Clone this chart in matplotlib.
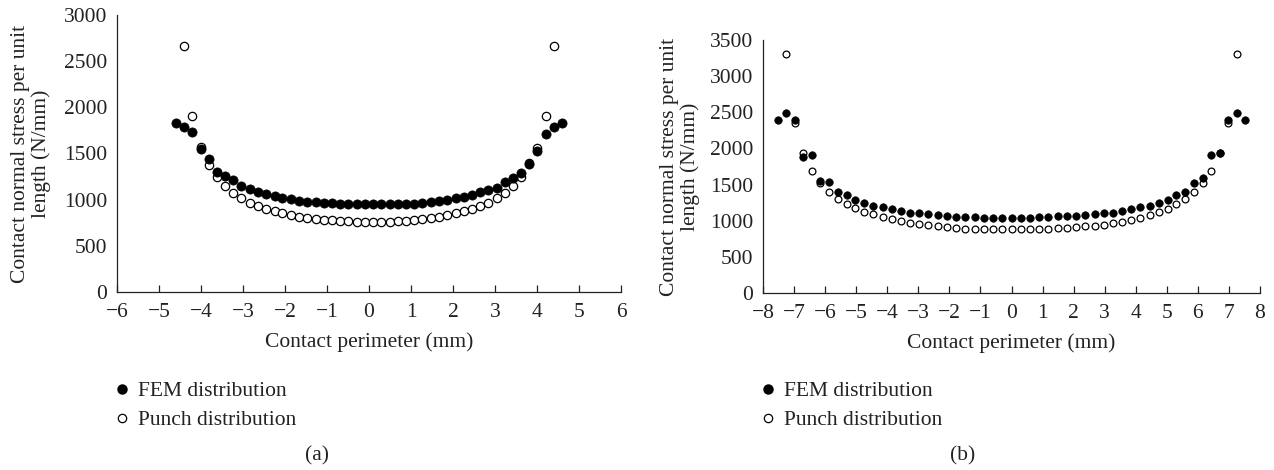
import matplotlib
matplotlib.use("Agg")
import matplotlib.pyplot as plt
from matplotlib.lines import Line2D

plt.rcParams['font.family'] = ['Liberation Serif', 'DejaVu Serif']
plt.rcParams['font.size'] = 15.5
plt.rcParams['axes.unicode_minus'] = True

# (a) contact perimeter positions (mm)
x_a = [-4.60, -4.40, -4.21, -4.01, -3.82, -3.62, -3.43, -3.23, -3.04, -2.84,
       -2.64, -2.45, -2.25, -2.06, -1.86, -1.67, -1.47, -1.27, -1.08, -0.88,
       -0.69, -0.49, -0.29, -0.10,
       0.10, 0.29, 0.49, 0.69, 0.88, 1.08, 1.27, 1.47, 1.67, 1.86,
       2.06, 2.25, 2.45, 2.64, 2.84, 3.04, 3.23, 3.43, 3.62, 3.82,
       4.01, 4.21, 4.40, 4.60]
fem_a = [1834, 1790, 1733, 1545, 1437, 1303, 1256, 1213, 1148, 1115,
         1080, 1061, 1040, 1021, 1007, 989, 978, 971, 964, 960,
         957, 953, 953, 953,
         951, 951, 951, 951, 954, 958, 965, 972, 983, 997,
         1015, 1032, 1050, 1080, 1105, 1130, 1191, 1238, 1292, 1386,
         1530, 1711, 1790, 1827]
x_punch_a = x_a[1:-1]
punch_a = [2667, 1906, 1574, 1375, 1249, 1151, 1076, 1015, 967, 931,
           899, 874, 853, 834, 816, 805, 794, 783, 776, 769,
           765, 762, 762,
           758, 758, 762, 765, 772, 780, 790, 801, 814, 831,
           853, 874, 899, 931, 967, 1015, 1069, 1151, 1249, 1394,
           1560, 1906, 2667]

# (b)
x_b = [-7.52, -7.25, -6.98, -6.71, -6.43, -6.16, -5.88, -5.60, -5.31, -5.03,
       -4.75, -4.45, -4.15, -3.86, -3.57, -3.27, -2.97, -2.68, -2.38, -2.09,
       -1.79, -1.49, -1.19, -0.89, -0.59, -0.30,
       0.0,
       0.30, 0.59, 0.89, 1.19, 1.49, 1.79, 2.09, 2.38, 2.68, 2.97,
       3.27, 3.57, 3.86, 4.15, 4.45, 4.75, 5.03, 5.31, 5.60, 5.88,
       6.16, 6.43, 6.71, 6.98, 7.25, 7.52]
fem_b = [2392, 2492, 2392, 1885, 1913, 1554, 1536, 1394, 1361, 1283,
         1246, 1209, 1187, 1159, 1136, 1112, 1104, 1094, 1076, 1063,
         1057, 1053, 1049, 1043, 1043, 1043,
         1043,
         1043, 1043, 1049, 1057, 1063, 1067, 1071, 1081, 1094, 1104,
         1112, 1136, 1159, 1187, 1209, 1250, 1288, 1361, 1398, 1522,
         1587, 1904, 1932, 2392, 2492, 2392]
x_punch_b = x_b[1:-1]
punch_b = [3312, 2346, 1940, 1688, 1518, 1402, 1306, 1237, 1181, 1126,
           1090, 1049, 1021, 998, 975, 956, 938, 925, 911, 901,
           891, 887, 883, 883, 883,
           883,
           883, 883, 887, 891, 901, 901, 911, 920, 933, 947,
           966, 984, 1012, 1043, 1081, 1122, 1168, 1232, 1306, 1402,
           1526, 1692, 1940, 2355, 3312]

ylabel = "Contact normal stress per unit\nlength (N/mm)"
xlabel = "Contact perimeter (mm)"

W, H = 1274, 470
fig = plt.figure(figsize=(W / 100, H / 100), dpi=100)

ax1 = fig.add_axes([117 / W, 1 - 292 / H, (621 - 117) / W, (292 - 15) / H])
ax2 = fig.add_axes([763 / W, 1 - 293 / H, (1260 - 763) / W, (293 - 40) / H])

# axis, x, fem, x punch, punch, xlim, ymax, filled size, open size, ylabel x, caption x, caption
panels = [
    (ax1, x_a, fem_a, x_punch_a, punch_a, (-6, 6), 3000, 44, 36, 31, 317, "(a)"),
    (ax2, x_b, fem_b, x_punch_b, punch_b, (-8, 8), 3500, 29, 24, 680, 963, "(b)"),
]

for ax, xf, yf, xp, yp, xlim, ymax, s_f, s_o, ylab_x, cap_x, cap in panels:
    ax.scatter(xp, yp, s=s_o, facecolor='white', edgecolor='black',
               linewidth=0.9, zorder=2)
    ax.scatter(xf, yf, s=s_f, facecolor='black', edgecolor='black',
               linewidth=0.5, zorder=3)
    ax.set_xlim(*xlim)
    ax.set_ylim(0, ymax)
    ax.set_xticks(range(xlim[0], xlim[1] + 1))
    ax.set_yticks(range(0, ymax + 1, 500))
    ax.spines['top'].set_visible(False)
    ax.spines['right'].set_visible(False)
    for s in ['left', 'bottom']:
        ax.spines[s].set_linewidth(0.9)
        ax.spines[s].set_color('#222222')
    ax.tick_params(axis='x', direction='in', length=5, width=0.9, pad=8,
                   colors='#222222', labelcolor='#222222')
    ax.tick_params(axis='y', length=0, pad=7, labelcolor='#222222')
    ax.set_xlabel(xlabel, labelpad=7, color='#222222')

    y_mid = 1 - ((ax.get_position().y0 + ax.get_position().y1) / 2)
    fig.text(ylab_x / W, 1 - y_mid, ylabel, rotation=90, ha='center',
             va='center', multialignment='center', color='#222222',
             linespacing=1.15)
    fig.text(cap_x / W, 1 - 456 / H, cap, ha='center', va='center',
             color='#222222')

    handles = [
        Line2D([], [], marker='o', linestyle='none', markersize=6.5,
               markerfacecolor='black', markeredgecolor='black'),
        Line2D([], [], marker='o', linestyle='none', markersize=6,
               markerfacecolor='white', markeredgecolor='black',
               markeredgewidth=0.9),
    ]
    x0 = ax.get_position().x0
    ax.legend(handles, ["FEM distribution", "Punch distribution"],
              loc='upper left', bbox_to_anchor=(x0 - 1 / W, 1 - 381 / H),
              bbox_transform=fig.transFigure, frameon=False,
              handlelength=0.55, handletextpad=0.45, borderpad=0,
              borderaxespad=0, labelspacing=0.42, labelcolor='#222222')

fig.savefig("out.png", dpi=100)
